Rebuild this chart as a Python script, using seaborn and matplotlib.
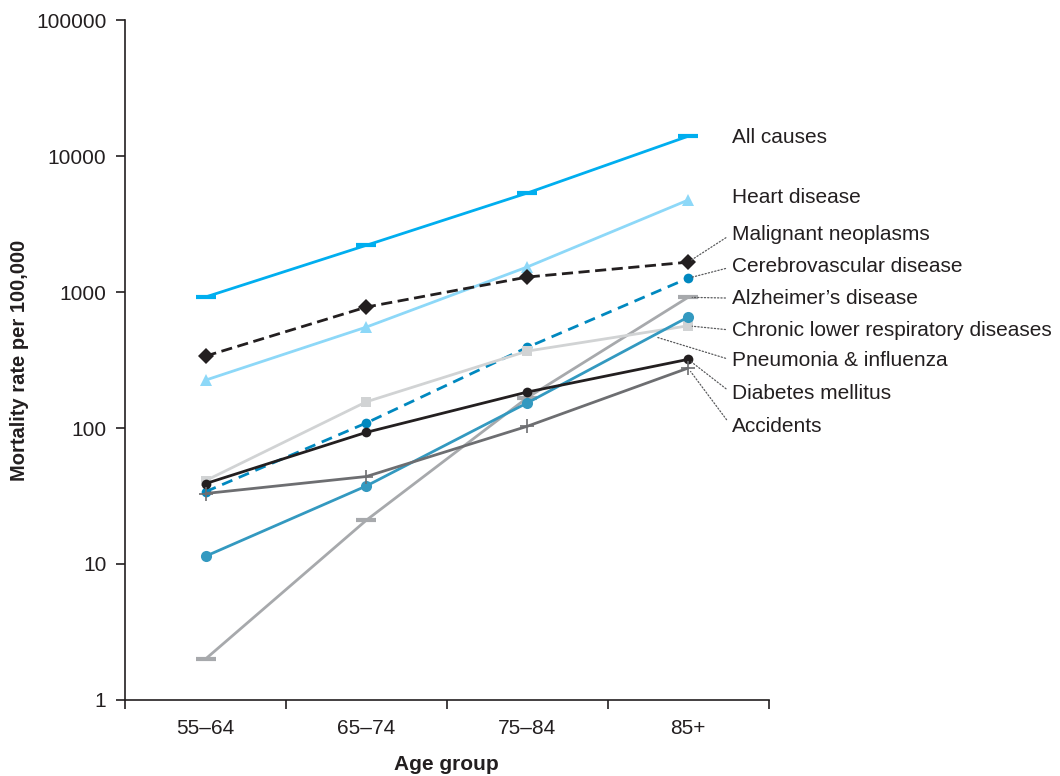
import pandas as pd
import matplotlib.pyplot as plt
import seaborn as sns
import numpy as np

# ======= data =======
ages = ['55–64', '65–74', '75–84', '85+']

all_causes = [920, 2210, 5350, 14000]
heart = [225, 553, 1530, 4750]
malignant = [338, 776, 1290, 1660]
cerebro = [34, 109, 392, 1265]
alzheimer = [2.0, 21, 167, 915]
chronic = [41, 156, 368, 565]
pneumonia = [11.4, 37.5, 153, 655]
diabetes = [39, 93, 184, 320]
accidents = [33, 44, 103, 276]

names = ['All causes', 'Heart disease', 'Malignant neoplasms', 'Cerebrovascular disease',
         'Alzheimer’s disease', 'Chronic lower respiratory diseases', 'Pneumonia & influenza',
         'Diabetes mellitus', 'Accidents']
series = [all_causes, heart, malignant, cerebro, alzheimer, chronic, pneumonia, diabetes, accidents]

# ======= style =======
sns.set_theme(style="ticks")
plt.rcParams['font.family'] = ['Liberation Sans', 'DejaVu Sans']

styles = {
    'All causes': dict(color='#00AEEF', marker='_', ms=14, mew=3, ls='-'),
    'Heart disease': dict(color='#8DD8F8', marker='^', ms=9, mew=0, ls='-'),
    'Malignant neoplasms': dict(color='#231F20', marker='D', ms=8, mew=0, ls=(0, (4, 2))),
    'Cerebrovascular disease': dict(color='#0088BF', marker='o', ms=7, mew=0, ls=(0, (4, 2.5))),
    'Alzheimer’s disease': dict(color='#A7A9AC', marker='_', ms=14, mew=3, ls='-'),
    'Chronic lower respiratory diseases': dict(color='#D1D3D4', marker='s', ms=7, mew=0, ls='-'),
    'Pneumonia & influenza': dict(color='#3399C0', marker='o', ms=8, mew=0, ls='-'),
    'Diabetes mellitus': dict(color='#231F20', marker='o', ms=7, mew=0, ls='-'),
    'Accidents': dict(color='#6D6E71', marker='+', ms=10, mew=1.2, ls='-'),
}

# label positions (value on log axis where each label sits) and leader anchors
label_y = [13800, 5000, 2670, 1530, 903, 525, 316, 181, 103]
leader = [False, False, True, True, True, True, True, True, True]

fig = plt.figure(figsize=(10.6, 7.76), dpi=100)
ax = fig.add_axes([0.118, 0.098, 0.607, 0.876])

for name, vals in zip(names, series):
    st = styles[name]
    df = pd.DataFrame({'age': ages, 'rate': vals})
    sns.lineplot(data=df, x='age', y='rate', ax=ax, sort=False, errorbar=None,
                 color=st['color'], linestyle=st['ls'], linewidth=2.0,
                 marker=st['marker'], markersize=st['ms'], markeredgewidth=st['mew'],
                 markeredgecolor=st['color'], zorder=3)

ax.set_yscale('log')
ax.set_ylim(1, 100000)
ax.set_xlim(-0.5, 3.5)
ax.set_yticks([1, 10, 100, 1000, 10000, 100000])
ax.set_yticklabels(['1', '10', '100', '1000', '10000', '100000'])
ax.yaxis.set_minor_locator(plt.NullLocator())
ax.set_xticks(range(len(ages)))
ax.set_xticklabels(ages)
ax.set_xticks(np.arange(-0.5, len(ages), 1.0), minor=True)
ax.tick_params(axis='x', which='major', length=0, pad=14, labelsize=15, colors='#231F20')
ax.tick_params(axis='x', which='minor', length=6.5, width=1.2, direction='out', color='#231F20')
ax.tick_params(axis='y', which='major', length=6.5, width=1.2, direction='out', labelsize=15,
               colors='#231F20', pad=7)
for s in ['left', 'bottom']:
    ax.spines[s].set_linewidth(1.2)
    ax.spines[s].set_color('#231F20')
sns.despine(ax=ax)

ax.set_xlabel('Age group', fontsize=15, fontweight='bold', labelpad=12, color='#231F20')
ax.set_ylabel('Mortality rate per 100,000', fontsize=14.5, fontweight='bold', labelpad=5,
              color='#231F20')

# right-hand labels with dotted leaders
last = len(ages) - 1
for name, vals, ly, lead in zip(names, series, label_y, leader):
    if name == 'Pneumonia & influenza':
        # leader touches the line a little before the last point
        f = 0.78
        ax_x = last - 1 + f
        ax_y = 10 ** (np.log10(vals[last - 1]) + f * (np.log10(vals[last]) - np.log10(vals[last - 1])))
    else:
        ax_x, ax_y = last, vals[last]
    if lead:
        ax.annotate(name, xy=(ax_x, ax_y), xytext=(3.27, ly), fontsize=15, va='center',
                    ha='left', color='#231F20', annotation_clip=False,
                    arrowprops=dict(arrowstyle='-', linestyle=':', linewidth=0.9,
                                    color='#58595B', shrinkA=2, shrinkB=3,
                                    relpos=(0, 0.5)))
    else:
        ax.text(3.27, ly, name, fontsize=15, va='center', ha='left', color='#231F20')

plt.savefig('out.png', dpi=100)
